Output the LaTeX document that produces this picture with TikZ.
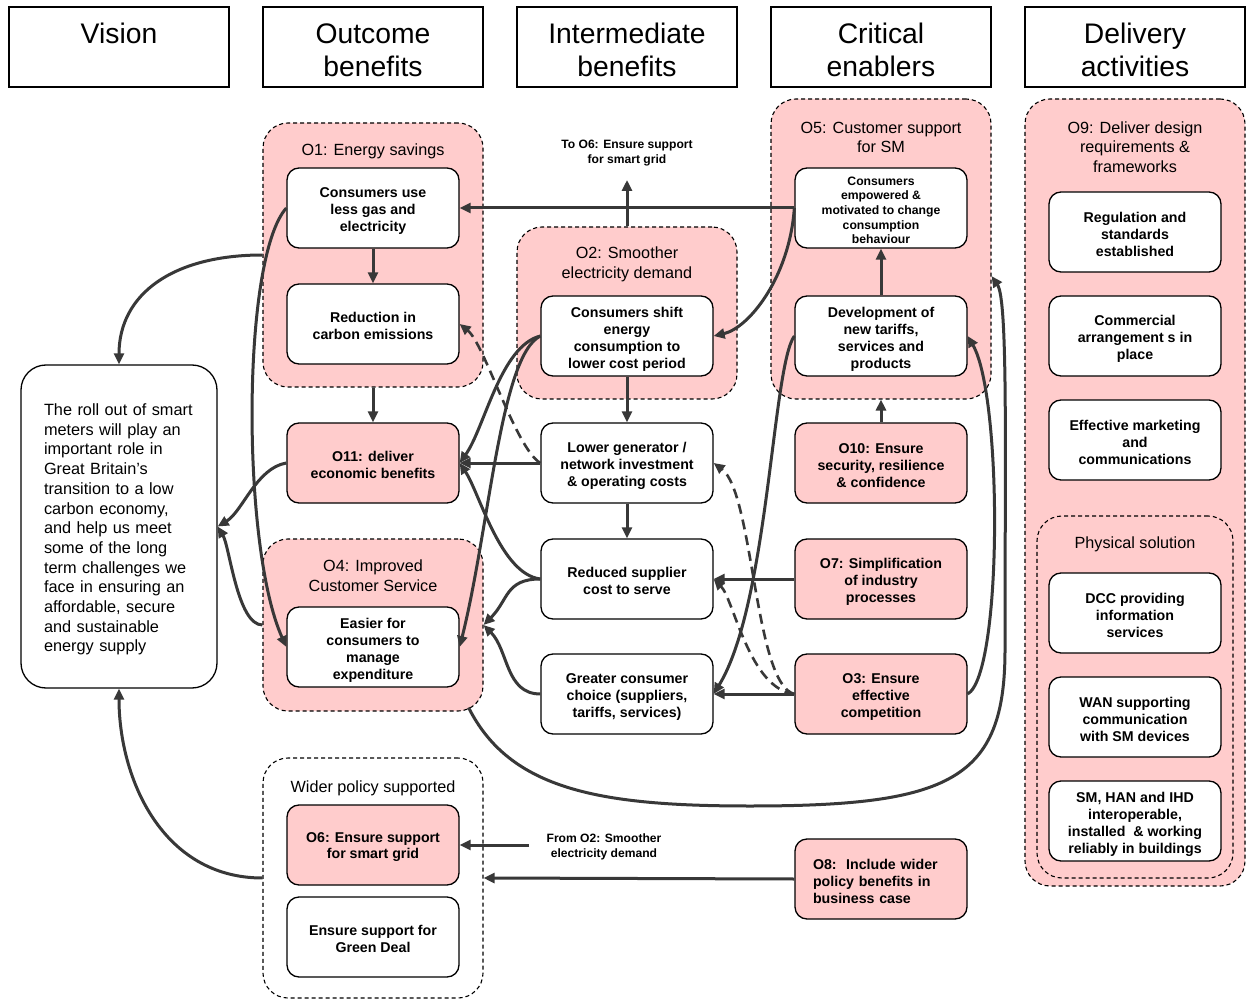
\documentclass[tikz,border=0pt]{standalone}
\usepackage{fontspec}
\setmainfont{Liberation Sans}
\usetikzlibrary{arrows.meta,calc}
\definecolor{pinkf}{RGB}{255,204,204}
\definecolor{lnc}{RGB}{56,56,56}
\newcommand{\hs}{\rule{0pt}{26.5pt}}
\newcommand{\bs}{\rule{0pt}{16pt}}
\newcommand{\bt}{\rule{0pt}{14pt}}
\newcommand{\es}{\rule{0pt}{13pt}}
\begin{document}
\begin{tikzpicture}[x=1pt,y=-1pt,
  hdr/.style={draw=black, line width=1.3pt, minimum width=220pt, minimum height=80pt, align=center, font=\fontsize{28.3}{33}\selectfont, inner sep=0pt},
  grp/.style={draw=black, dash pattern=on 4pt off 3pt, line width=1.1pt, rounded corners=25pt, fill=pinkf, inner sep=0pt},
  box/.style={draw=black, line width=1.3pt, rounded corners=12pt, fill=white, minimum width=172pt, minimum height=80pt, align=center, inner sep=2pt, font=\bfseries\fontsize{14.2}{17}\selectfont},
  pbox/.style={box, fill=pinkf},
  gtitle/.style={align=center, font=\fontsize{16.2}{19.5}\selectfont, inner sep=0pt},
  smalllbl/.style={align=center, font=\bfseries\fontsize{12.1}{15}\selectfont, inner sep=0pt},
  arr/.style={draw=lnc, line width=3pt, -{Triangle[length=11pt,width=10pt]}},
  darr/.style={arr, line width=2.6pt, dash pattern=on 10pt off 6pt},
]
\useasboundingbox (0,0) rectangle (1251,1000);
\fill[white] (0,0) rectangle (1251,1000);

% headers
\node[hdr] (hv) at (119,47) {\hs Vision\\\mbox{}};
\node[hdr] (ho) at (373,47) {\hs Outcome\\benefits};
\node[hdr] (hi) at (627,47) {\hs Intermediate\\benefits};
\node[hdr] (hc) at (881,47) {\hs Critical\\enablers};
\node[hdr] (hd) at (1135,47) {\hs Delivery\\activities};

% groups
\node[grp, minimum width=220pt, minimum height=264pt] (o1g) at (373,255) {};
\node[grp, minimum width=220pt, minimum height=172pt] (o2g) at (627,313) {};
\node[grp, minimum width=220pt, minimum height=300pt] (o5g) at (881,249) {};
\node[grp, minimum width=220pt, minimum height=787pt] (o9g) at (1135,492.5) {};
\node[grp, minimum width=196pt, minimum height=362pt] (phys) at (1135,697) {};
\node[grp, minimum width=220pt, minimum height=172pt] (o4g) at (373,625) {};
\node[grp, fill=white, minimum width=220pt, minimum height=240pt] (wider) at (373,878) {};

% group titles
\node[gtitle] (t1) at (373,151) {O1: Energy savings};
\node[gtitle] (t2) at (627,264.5) {O2: Smoother\\electricity demand};
\node[gtitle] (t5) at (881,137.5) {O5: Customer support\\for SM};
\node[gtitle] (t9) at (1135,147) {O9: Deliver design\\requirements \&\\frameworks};
\node[gtitle] (tp) at (1135,544) {Physical solution};
\node[gtitle] (t4) at (373,575.5) {O4: Improved\\Customer Service};
\node[gtitle] (tw) at (373,788) {Wider policy supported};

% vision
\node[draw=black, line width=1.3pt, rounded corners=25pt, fill=white, minimum width=196pt, minimum height=323pt, text width=150pt, align=left, inner sep=0pt, font=\fontsize{16.3}{19.7}\selectfont] (vis) at (119,526.5) {\rule{0pt}{17.8pt}The roll out of smart\\meters will play an\\important role in\\Great Britain’s\\transition to a low\\carbon economy,\\and help us meet\\some of the long\\term challenges we\\face in ensuring an\\affordable, secure\\and sustainable\\energy supply};

% column 2
\node[box] (cu) at (373,208) {\bs Consumers use\\less gas and\\electricity};
\node[box] (red) at (373,324) {\bt Reduction in\\carbon emissions};
\node[pbox] (o11) at (373,463) {\bt O11: deliver\\economic benefits};
\node[box] (eas) at (373,647) {\bs Easier for\\consumers to\\manage\\expenditure};
\node[pbox] (o6) at (373,845) {\bt O6: Ensure support\\for smart grid};
\node[box] (gd) at (373,937) {\bt Ensure support for\\Green Deal};

% column 3
\node[box] (shift) at (627,336) {\bs Consumers shift\\energy\\consumption to\\lower cost period};
\node[box] (low) at (627,463) {\bs Lower generator /\\network investment\\\& operating costs};
\node[box] (rsc) at (627,579) {\bt Reduced supplier\\cost to serve};
\node[box] (gcc) at (627,694) {\bs Greater consumer\\choice (suppliers,\\tariffs, services)};

% column 4
\node[box, font=\bfseries\fontsize{12.2}{14.7}\selectfont] (emp) at (881,208) {\es Consumers\\empowered \&\\motivated to change\\consumption\\behaviour};
\node[box] (dev) at (881,336) {\bs Development of\\new tariffs,\\services and\\products};
\node[pbox] (o10) at (881,463) {\bs O10: Ensure\\security, resilience\\\& confidence};
\node[pbox] (o7) at (881,579) {\bs O7: Simplification\\of industry\\processes};
\node[pbox] (o3) at (881,694) {\bs O3: Ensure\\effective\\competition};
\node[pbox, align=left, text width=136pt] (o8) at (881,879) {\bs O8:\ \ Include wider\\policy benefits in\\business case};

% column 5
\node[box] (reg) at (1135,232) {\bs Regulation and\\standards\\established};
\node[box] (com) at (1135,336) {\bs Commercial\\arrangement s in\\place};
\node[box] (mkt) at (1135,440) {\bs Effective marketing\\and\\communications};
\node[box] (dcc) at (1135,613) {\bs DCC providing\\information\\services};
\node[box] (wan) at (1135,717) {\bs WAN supporting\\communication\\with SM devices};
\node[box] (smh) at (1135,821) {\bs SM, HAN and IHD\\interoperable,\\installed\ \ \& working\\reliably in buildings};

% free labels
\node[smalllbl] (lto) at (627,153) {To O6: Ensure support\\for smart grid};
\node[smalllbl] (lfrom) at (604,847) {From O2: Smoother\\electricity demand};
\coordinate (toO6) at (627,180);
\coordinate (fromO2) at (529,845);

% straight connectors
\draw[arr] (emp.west) -- (cu.east);
\draw[arr] (o2g.north) -- (toO6);
\draw[arr] (cu.south) -- (red.north);
\draw[arr] (o1g.south) -- (o11.north);
\draw[arr] (shift.south) -- (low.north);
\draw[arr] (low.south) -- (rsc.north);
\draw[arr] (dev.north) -- (emp.south);
\draw[arr] (o10.north) -- (o5g.south);
\draw[arr] (o7.west) -- (rsc.east);
\draw[arr] (o3.west) -- (gcc.east);
\draw[arr] (low.west) -- (o11.east);
\draw[arr] (fromO2) -- (o6.east);
\draw[arr] (o8.west) -- (wider.east);

% curved connectors
\draw[arr] (emp.west) .. controls +(-5,70) and +(35,-8) .. (shift.east);
\draw[arr] (shift.west) .. controls +(-40,10) and +(25,-35) .. (o11.east);
\draw[arr] (shift.west) .. controls +(-40,20) and +(30,-120) .. (eas.east);
\draw[darr] (low.west) .. controls +(-25,-15) and +(25,20) .. (red.east);
\draw[arr] (rsc.west) .. controls +(-40,-5) and +(20,30) .. (o11.east);
\draw[arr] (rsc.west) .. controls +(-35,0) and +(25,-25) .. (o4g.east);
\draw[arr] (gcc.west) .. controls +(-35,0) and +(25,25) .. (o4g.east);
\draw[arr] (o11.west) .. controls +(-30,5) and +(25,-15) .. (vis.east);
\draw[arr] (o4g.west) .. controls +(-25,0) and +(12,20) .. (vis.east);
\draw[arr] (cu.west) .. controls +(-45,50) and +(-45,-100) .. (eas.west);
\draw[arr] (o1g.west) .. controls +(-90,0) and +(0,-70) .. (vis.north);
\draw[arr] (wider.west) .. controls +(-100,0) and +(0,90) .. (vis.south);
\draw[arr] (o3.east) .. controls +(35,-20) and +(35,60) .. (dev.east);
\draw[arr] (dev.west) .. controls +(-22,30) and +(55,-90) .. (gcc.east);
\draw[arr] ($(o4g.south east)+(-15,-4)$) .. controls (510,790) and (600,806) .. (750,806)
   .. controls (950,806) and (1005,780) .. (1005,650)
   .. controls (1005,450) and (1008,300) .. ($(o5g.north east)!0.59!(o5g.south east)$);
\draw[darr] (o3.west) .. controls +(-40,-10) and +(40,30) .. (low.east);
\draw[darr] (o3.west) .. controls +(-45,-5) and +(20,20) .. (rsc.east);
\end{tikzpicture}
\end{document}
